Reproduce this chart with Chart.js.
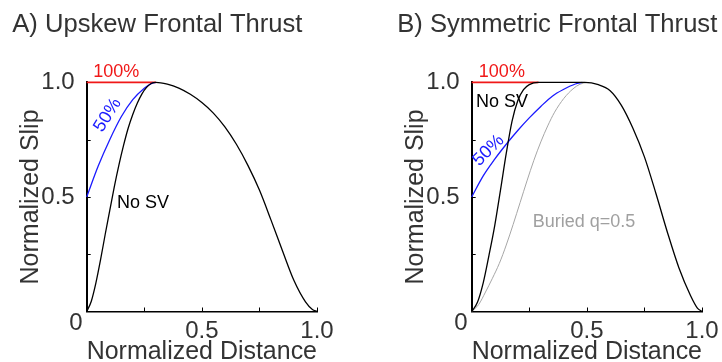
<!DOCTYPE html>
<html><head><meta charset="utf-8">
<script src="https://cdn.jsdelivr.net/npm/chart.js@4.4.0/dist/chart.umd.min.js"></script>
<style>
html,body{margin:0;padding:0;background:#fff;width:722px;height:362px;overflow:hidden;position:relative;}
canvas{position:absolute;top:0;}
#cA{left:0px} #cB{left:385px}
</style></head><body>
<canvas id="cA" width="361" height="362"></canvas>
<canvas id="cB" width="361" height="362"></canvas>
<script>
// ---- data ----
const titleA = "A) Upskew Frontal Thrust";
const titleB = "B) Symmetric Frontal Thrust";
const xAxisTitle = "Normalized Distance";
const yAxisTitle = "Normalized Slip";
const tickValues = [0, 0.25, 0.5, 0.75, 1];
const tickLabels = ["0", "", "0.5", "", "1.0"];

// Panel A
const aNoSvX = [0, 0.02, 0.04, 0.06, 0.08, 0.10, 0.12, 0.14, 0.16, 0.18, 0.20, 0.22, 0.24, 0.26, 0.28, 0.30, 0.35, 0.40, 0.45, 0.50, 0.55, 0.60, 0.65, 0.70, 0.75, 0.80, 0.85, 0.90, 0.95, 0.98, 1.0];
const aNoSvY = [0, 0.045, 0.125, 0.225, 0.335, 0.44, 0.545, 0.64, 0.725, 0.80, 0.86, 0.91, 0.95, 0.978, 0.995, 1.0, 0.992, 0.975, 0.948, 0.912, 0.866, 0.806, 0.73, 0.638, 0.53, 0.40, 0.265, 0.135, 0.042, 0.009, 0];
const a50X = [0, 0.05, 0.10, 0.15, 0.20, 0.25, 0.28, 0.30];
const a50Y = [0.5, 0.635, 0.75, 0.85, 0.925, 0.975, 0.995, 1.0];
const a100X = [0, 0.30];
const a100Y = [1.0, 1.0];

// Panel B
const bNoSvX = [0, 0.025, 0.05, 0.075, 0.10, 0.125, 0.15, 0.175, 0.20, 0.225, 0.25, 0.29, 0.40, 0.49, 0.55, 0.60, 0.65, 0.70, 0.75, 0.80, 0.85, 0.90, 0.95, 0.98, 1.0];
const bNoSvY = [0, 0.04, 0.125, 0.245, 0.375, 0.53, 0.69, 0.83, 0.92, 0.968, 0.99, 1.0, 1.0, 1.0, 0.99, 0.965, 0.90, 0.80, 0.675, 0.515, 0.345, 0.19, 0.07, 0.015, 0];
const b50X = [0, 0.05, 0.10, 0.15, 0.20, 0.25, 0.30, 0.35, 0.40, 0.45, 0.48];
const b50Y = [0.5, 0.592, 0.665, 0.73, 0.79, 0.845, 0.895, 0.94, 0.97, 0.993, 1.0];
const bBuriedX = [0, 0.03, 0.06, 0.09, 0.12, 0.15, 0.18, 0.21, 0.24, 0.27, 0.30, 0.33, 0.36, 0.40, 0.44, 0.47, 0.50];
const bBuriedY = [0, 0.03, 0.085, 0.145, 0.21, 0.29, 0.38, 0.475, 0.57, 0.66, 0.74, 0.81, 0.87, 0.93, 0.972, 0.992, 1.0];
const b100X = [0, 0.29];
const b100Y = [1.0, 1.0];

const FONT = "'Liberation Sans', Arial, Helvetica, sans-serif";
const TXT = '#333333';

function pts(xs, ys) { return xs.map((x, i) => ({x: x, y: ys[i]})); }
function ds(xs, ys, color, w) {
  return {data: pts(xs, ys), borderColor: color, borderWidth: w, pointRadius: 0,
          cubicInterpolationMode: 'monotone', fill: false, clip: false};
}
function lab(v) { const i = tickValues.indexOf(v); return i >= 0 ? tickLabels[i] : ''; }

const decor = {
  id: 'decor',
  afterDraw(chart, args, opts) {
    const ctx = chart.ctx, xs = chart.scales.x, ys = chart.scales.y;
    ctx.save();
    // title
    ctx.fillStyle = TXT;
    ctx.font = "25.6px " + FONT;
    ctx.textAlign = 'left'; ctx.textBaseline = 'alphabetic';
    ctx.fillText(opts.title, opts.titleX, 31.5);
    // shared origin label "0"
    ctx.font = "24px " + FONT;
    ctx.textAlign = 'right'; ctx.textBaseline = 'middle';
    ctx.fillText(tickLabels[0], ys.right - 4, xs.top + 12);
    // inward tick marks
    ctx.strokeStyle = '#000'; ctx.lineWidth = 1;
    ctx.beginPath();
    tickValues.forEach(v => {
      if (v === 0) return;
      const px = Math.round(xs.getPixelForValue(v)) + 0.5;
      ctx.moveTo(px, xs.top); ctx.lineTo(px, xs.top - 4);
      if (v < 1) {
        const py = Math.round(ys.getPixelForValue(v)) + 0.5;
        ctx.moveTo(ys.right, py); ctx.lineTo(ys.right + 4, py);
      }
    });
    ctx.stroke();
    // curve annotations
    opts.notes.forEach(n => {
      const px = xs.getPixelForValue(n.x), py = ys.getPixelForValue(n.y);
      ctx.save();
      ctx.translate(px, py);
      ctx.rotate((n.rot || 0) * Math.PI / 180);
      ctx.fillStyle = n.color;
      ctx.font = "18px " + FONT;
      ctx.textAlign = n.align || 'center';
      ctx.textBaseline = 'middle';
      ctx.fillText(n.text, 0, 0);
      ctx.restore();
    });
    ctx.restore();
  }
};

function makeChart(id, datasets, title, notes) {
  return new Chart(document.getElementById(id), {
    type: 'line',
    data: {datasets: datasets},
    plugins: [decor],
    options: {
      responsive: false, animation: false, devicePixelRatio: 1,
      layout: {padding: {top: 82.4, left: 0, right: 44, bottom: 0}},
      plugins: {legend: {display: false}, tooltip: {enabled: false}, title: {display: false},
                decor: {title: title, titleX: 12.3, notes: notes}},
      scales: {
        x: {type: 'linear', min: 0, max: 1,
            afterFit: s => { s.height = 50.5; },
            afterBuildTicks: s => { s.ticks = tickValues.map(v => ({value: v})); },
            grid: {display: false},
            border: {display: true, color: '#000', width: 1.5},
            ticks: {callback: v => (v === 0 ? '' : lab(v)), color: TXT, padding: 0, maxRotation: 0, autoSkip: false,
                    font: {family: FONT, size: 24, lineHeight: 1}},
            title: {display: true, text: xAxisTitle, color: TXT, padding: {top: 0, bottom: -3},
                    font: {family: FONT, size: 25, lineHeight: 1}}},
        y: {type: 'linear', min: 0, max: 1,
            afterFit: s => { s.width = 86.7; },
            afterBuildTicks: s => { s.ticks = tickValues.map(v => ({value: v})); },
            grid: {display: false},
            border: {display: true, color: '#000', width: 2},
            ticks: {callback: v => (v === 0 ? '' : lab(v)), color: TXT, padding: 4, autoSkip: false,
                    font: {family: FONT, size: 24, lineHeight: 1}},
            title: {display: true, text: yAxisTitle, color: TXT, padding: {top: 18.5, bottom: 0},
                    font: {family: FONT, size: 25, lineHeight: 1}}}
      }
    }
  });
}

makeChart('cA', [
  ds(aNoSvX, aNoSvY, '#000000', 1.3),
  ds(a50X, a50Y, '#1a1aff', 1.3),
  ds(a100X, a100Y, '#f01818', 1.6)
], titleA, [
  {text: '100%', x: 0.128, y: 1.044, color: '#f01818'},
  {text: '50%', x: 0.091, y: 0.857, color: '#1a1aff', rot: -58},
  {text: 'No SV', x: 0.132, y: 0.473, color: '#000', align: 'left'}
]);

makeChart('cB', [
  ds(bNoSvX, bNoSvY, '#000000', 1.3),
  ds(b50X, b50Y, '#1a1aff', 1.3),
  ds(bBuriedX, bBuriedY, '#a6a6a6', 1.0),
  ds(b100X, b100Y, '#f01818', 1.6)
], titleB, [
  {text: '100%', x: 0.131, y: 1.044, color: '#f01818'},
  {text: 'No SV', x: 0.019, y: 0.915, color: '#000', align: 'left'},
  {text: '50%', x: 0.073, y: 0.703, color: '#1a1aff', rot: -45},
  {text: 'Buried q=0.5', x: 0.265, y: 0.39, color: '#a0a0a0', align: 'left'}
]);
</script>
</body></html>
